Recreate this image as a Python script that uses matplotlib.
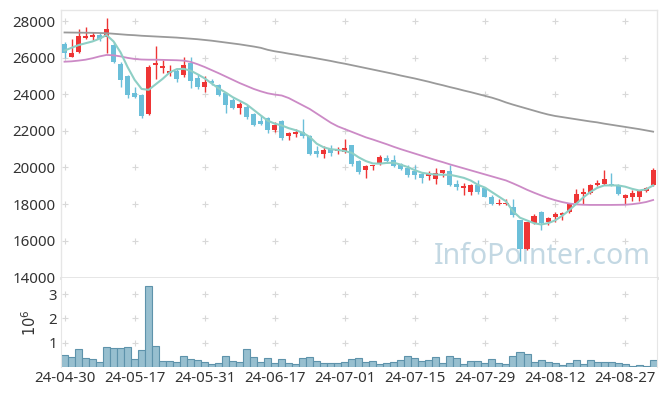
import matplotlib
matplotlib.use("Agg")
import matplotlib.pyplot as plt
import numpy as np

# ---- data ----
tick_labels = ['24-04-30', '24-05-17', '24-05-31', '24-06-17', '24-07-01',
               '24-07-15', '24-07-29', '24-08-12', '24-08-27']

opens = [26750, 26070, 26340, 27060, 27130, 27250, 27130, 26700, 25660, 25000,
         24050, 23960, 22900, 25600, 25460, 25190, 25300, 25060, 25700, 24880,
         24390, 24750, 24500, 24050, 23690, 23270, 23320, 22900, 22530, 22710,
         22040, 22530, 21725, 21820, 21950, 21720, 20900, 20720, 21030, 20900,
         20850, 21210, 20330, 19840, 20060, 20180, 20520, 20390, 20210, 19970,
         19790, 19620, 19530, 19346, 19713, 19790, 19110, 18870, 18650, 19050,
         18890, 18370, 18010, 18000, 17850, 17110, 15550, 16960, 17590, 17000,
         17270, 17420, 17550, 18045, 18560, 18600, 19016, 19070, 19110, 19010,
         18320, 18410, 18410, 18705, 19050]
closes = [26250, 26250, 27200, 27200, 27270, 27020, 27590, 25800, 24790, 23960,
          23870, 22810, 25520, 25740, 25570, 25300, 24840, 25590, 24730, 24390,
          24660, 24610, 23960, 23410, 23270, 23470, 22770, 22310, 22370, 22040,
          22310, 21620, 21860, 21950, 21725, 20760, 20720, 20940, 20790, 21030,
          21070, 20170, 19750, 20080, 20110, 20600, 20340, 20080, 19900, 19570,
          19570, 19440, 19660, 19690, 19840, 19020, 18920, 18980, 19050, 18650,
          18410, 18010, 18045, 18060, 17390, 15550, 17000, 17330, 16960, 17240,
          17460, 17490, 18010, 18560, 18650, 19020, 19160, 19350, 18960, 18560,
          18470, 18600, 18700, 18890, 19880]
highs = [26890, 27020, 27570, 27680, 27440, 27350, 28175, 26890, 25800, 25050,
         24400, 24000, 25610, 26650, 25900, 25620, 25420, 26030, 26030, 25110,
         25010, 24850, 24560, 24145, 23780, 23560, 23410, 22990, 22860, 22770,
         22480, 22600, 21950, 22130, 22640, 21770, 21180, 21160, 21210, 21120,
         21560, 21240, 20390, 20130, 20150, 20680, 20700, 20670, 20260, 20150,
         20150, 19750, 19790, 19990, 19840, 20150, 19290, 19140, 19110, 19290,
         18930, 18470, 18280, 18280, 18280, 17150, 17020, 17480, 17640, 17310,
         17550, 17550, 18050, 18830, 18900, 19110, 19290, 19880, 19700, 19110,
         18560, 18740, 18780, 18920, 19950]
lows = [25980, 26050, 26290, 27020, 26980, 26900, 26253, 25740, 24430, 23800,
        23800, 22700, 22860, 24850, 25150, 25020, 24700, 24940, 24330, 24290,
        24150, 24520, 23900, 22955, 23190, 22900, 22630, 22260, 22310, 21910,
        21950, 21520, 21500, 21680, 21615, 20700, 20570, 20520, 20610, 20750,
        20790, 20080, 19650, 19450, 19840, 20130, 20260, 20020, 19860, 19460,
        19380, 19130, 19340, 19090, 19460, 18980, 18740, 18500, 18470, 18560,
        18360, 17960, 17960, 17960, 17300, 14900, 15500, 16910, 16600, 16870,
        17000, 17100, 17520, 18000, 17980, 18560, 18990, 19016, 18960, 18520,
        17980, 18190, 18150, 18650, 19000]

ma5 = [26400, 26550, 26700, 26800, 26900, 27050, 27250, 26900, 26300, 25500,
       24800, 24300, 24250, 24550, 24850, 25200, 25380, 25400, 25300, 25100,
       24880, 24600, 24330, 24100, 23850, 23650, 23450, 23150, 22850, 22560,
       22400, 22300, 22150, 22040, 21900, 21670, 21300, 21100, 21000, 20960,
       20900, 20800, 20550, 20350, 20220, 20210, 20250, 20260, 20150, 20020,
       19850, 19710, 19650, 19610, 19600, 19600, 19520, 19430, 19280, 19050,
       18900, 18650, 18400, 18150, 17600, 17250, 17100, 16950, 16880, 16950,
       17100, 17350, 17650, 18000, 18350, 18650, 18880, 19016, 19020, 19016,
       18950, 18830, 18740, 18800, 19020]
ma20 = [25790, 25810, 25850, 25900, 25980, 26080, 26160, 26140, 26080, 26000,
        25940, 25910, 25900, 25900, 25890, 25880, 25870, 25850, 25780, 25650,
        25500, 25330, 25160, 24980, 24800, 24620, 24460, 24300, 24170, 24060,
        23990, 23940, 23800, 23600, 23400, 23200, 22950, 22700, 22450, 22250,
        22100, 21950, 21800, 21650, 21530, 21400, 21270, 21130, 21000, 20880,
        20760, 20640, 20520, 20400, 20290, 20170, 20060, 19950, 19840, 19730,
        19620, 19510, 19400, 19290, 19130, 18960, 18780, 18620, 18470, 18330,
        18210, 18110, 18030, 17980, 17960, 17950, 17950, 17950, 17950, 17955,
        17960, 17990, 18040, 18110, 18220]
ma120 = [27390, 27385, 27380, 27375, 27370, 27360, 27350, 27320, 27290, 27260,
         27240, 27210, 27190, 27170, 27150, 27130, 27110, 27080, 27050, 27020,
         26980, 26940, 26890, 26840, 26790, 26740, 26680, 26620, 26550, 26440,
         26360, 26300, 26230, 26170, 26100, 26040, 25970, 25900, 25830, 25750,
         25680, 25600, 25520, 25440, 25360, 25280, 25200, 25120, 25030, 24950,
         24870, 24780, 24690, 24590, 24500, 24400, 24310, 24210, 24120, 24020,
         23920, 23820, 23700, 23560, 23440, 23330, 23220, 23110, 23000, 22900,
         22820, 22760, 22700, 22640, 22580, 22520, 22470, 22400, 22340, 22280,
         22220, 22160, 22100, 22030, 21960]

volume = [0.49, 0.40, 0.73, 0.36, 0.32, 0.19, 0.81, 0.77, 0.77, 0.81,
          0.32, 0.69, 3.33, 0.85, 0.23, 0.23, 0.19, 0.44, 0.32, 0.27,
          0.19, 0.11, 0.15, 0.44, 0.23, 0.19, 0.73, 0.40, 0.19, 0.36,
          0.15, 0.32, 0.15, 0.11, 0.36, 0.40, 0.23, 0.15, 0.15, 0.15,
          0.19, 0.32, 0.36, 0.19, 0.23, 0.11, 0.15, 0.19, 0.27, 0.44,
          0.36, 0.23, 0.27, 0.40, 0.15, 0.44, 0.36, 0.11, 0.23, 0.23,
          0.15, 0.32, 0.15, 0.11, 0.44, 0.60, 0.52, 0.19, 0.27, 0.19,
          0.15, 0.07, 0.15, 0.27, 0.11, 0.27, 0.19, 0.19, 0.19, 0.15,
          0.11, 0.03, 0.07, 0.03, 0.27]

UP = '#ee3535'
DOWN = '#6bbfd9'
GRID = '#d8d8d8'
TXT = '#333333'

plt.rcParams['font.family'] = ['Noto Sans', 'DejaVu Sans']

fig = plt.figure(figsize=(6.65, 3.96), dpi=100)
left, right = 61 / 665, 657 / 665
ax = fig.add_axes([left, 1 - 278 / 396, right - left, 268 / 396])
axv = fig.add_axes([left, 1 - 367 / 396, right - left, 89 / 396])

x = np.arange(len(opens))
o = np.array(opens, float)
c = np.array(closes, float)
colors = [UP if cc >= oo else DOWN for oo, cc in zip(o, c)]

# wicks then bodies
ax.vlines(x, lows, highs, colors=colors, linewidth=1.0, zorder=2)
body_h = np.maximum(np.abs(c - o), 45)
ax.bar(x, body_h, bottom=np.minimum(o, c), width=0.72, color=colors,
       linewidth=0, zorder=3)

# moving averages
ax.plot(x, ma120, color='#9a9a9a', lw=1.3, zorder=4)
ax.plot(x, ma20, color='#cc8ac6', lw=1.3, zorder=4)
ax.plot(x, ma5, color='#8ecfc5', lw=1.5, zorder=4)

# watermark
ax.text(0.807, 0.08, 'InfoPointer.com', transform=ax.transAxes, ha='center',
        va='center', fontsize=20.5, color='#c3d8e3', zorder=1)

xticks = np.arange(0, len(opens), 10)
yticks = np.arange(14000, 28001, 2000)
ax.set_xlim(-0.5, len(opens) - 0.45)
ax.set_ylim(13950, 28620)
ax.set_yticks(yticks)
ax.set_xticks(xticks)
ax.set_xticklabels([])
ax.tick_params(length=0, labelsize=10.8, colors=TXT, pad=4)

# cross-shaped grid marks
gx, gy = np.meshgrid(xticks, yticks[1:])
ax.scatter(gx.ravel(), gy.ravel(), marker='+', s=18, color=GRID, lw=0.8,
           zorder=0)

for s in ['top', 'right', 'left']:
    ax.spines[s].set_color('#e6e6e6')
    ax.spines[s].set_linewidth(1)
ax.spines['bottom'].set_color('#e3e3e3')
ax.spines['bottom'].set_linewidth(2)

# volume panel
axv.bar(x, volume, width=1.0, color='#97bfcf', edgecolor='#5e93ab',
        linewidth=0.8, zorder=2)
axv.set_xlim(ax.get_xlim())
axv.set_ylim(0, 3.66)
axv.set_yticks([1, 2, 3])
axv.set_xticks(xticks)
axv.set_xticklabels(tick_labels)
axv.tick_params(length=0, labelsize=10.8, colors=TXT, pad=3)
axv.set_ylabel(r'$10^6$', fontsize=10.5, color=TXT, labelpad=6)
vx, vy = np.meshgrid(xticks, [1, 2, 3])
axv.scatter(vx.ravel(), vy.ravel(), marker='+', s=18, color=GRID, lw=0.8,
            zorder=0)
for s in ['top', 'bottom']:
    axv.spines[s].set_visible(False)
for s in ['left', 'right']:
    axv.spines[s].set_color('#e6e6e6')

fig.savefig('out.png', dpi=100)
